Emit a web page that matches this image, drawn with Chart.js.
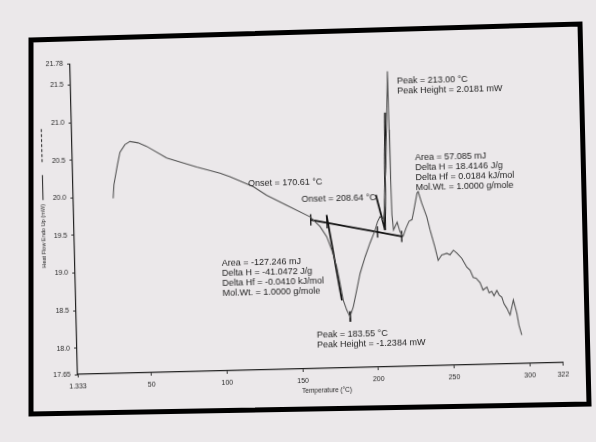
<!DOCTYPE html>
<html><head><meta charset="utf-8">
<script src="https://cdn.jsdelivr.net/npm/chart.js@4.4.0/dist/chart.umd.min.js"></script>
<style>
html,body{margin:0;padding:0;background:#ebe8ea;width:596px;height:442px;overflow:hidden;}
#wrap{position:absolute;left:0;top:0;width:596px;height:442px;transform:rotate(-1.4deg);transform-origin:300px 220px;}
canvas{display:block}
svg{position:absolute;left:0;top:0}
</style></head><body>
<div id="wrap"><canvas id="c" width="596" height="442"></canvas></div>
<svg width="596" height="442"><polygon points="31,40 580,24 589,404 31,414" fill="none" stroke="#000" stroke-width="5" stroke-linejoin="miter"/></svg>
<script>
// ---- data ----
const temperature = [27.6,28.3,30.9,32.8,36.2,39.6,44.9,50.5,63.6,83.2,98.5,105.0,120.3,129.0,142.1,157.3,163.7,168.0,171.1,174.1,176.0,177.9,180.0,181.6,182.0,184.4,186.9,189.4,193.0,196.4,200.0,201.7,203.5,205.6,206.8,208.6,210.7,210.9,211.1,211.4,212.2,214.7,216.5,218.4,220.5,222.6,224.6,226.0,228.3,229.1,231.2,234.4,236.3,239.2,241.2,243.6,247.0,249.1,251.4,253.6,256.8,260.0,262.1,264.1,265.9,268.5,270.3,272.9,274.3,276.0,277.5,279.4,280.9,282.6,284.0,285.8,287.8,290.2,292.3,293.5,295.2];
const heatFlow = [19.98,20.16,20.42,20.59,20.69,20.73,20.71,20.66,20.50,20.37,20.28,20.23,20.09,19.97,19.83,19.67,19.54,19.40,19.22,19.00,18.78,18.55,18.42,18.35,18.33,18.46,18.68,18.90,19.12,19.30,19.47,19.58,19.65,19.60,19.80,20.53,21.58,20.80,20.13,19.67,19.47,19.57,19.44,19.38,19.49,19.58,19.60,19.73,19.95,19.97,19.82,19.63,19.46,19.23,19.05,19.12,19.14,19.12,19.18,19.14,19.07,18.95,18.91,18.81,18.80,18.74,18.64,18.68,18.60,18.62,18.56,18.63,18.57,18.54,18.45,18.39,18.30,18.50,18.32,18.16,18.03];

const baselineT = [157.7,217.5];
const baselineY = [19.63,19.38];
const onset1T = [168.2,177.0];
const onset1Y = [19.69,18.55];
const onset2T = [201.1,206.6];
const onset2Y = [19.94,19.47];
const peakLineT = [208.5,206.6];
const peakLineY = [21.03,19.47];
const endoMarkT = [182.2,182.2];
const endoMarkY = [18.40,18.26];
const markT = [157.7,168.4,201.6,217.5];
const markY = [19.63,19.585,19.447,19.38];

const xTicks = [1.333,50,100,150,200,250,300,322];
const yTicks = [17.65,18.0,18.5,19.0,19.5,20.0,20.5,21.0,21.5,21.78];

const notes = [
  {t:116.9, y:20.127, lines:["Onset = 170.61 °C"]},
  {t:152.0, y:19.907, lines:["Onset = 208.64 °C"]},
  {t:216.8, y:21.452, lines:["Peak = 213.00 °C","Peak Height = 2.0181 mW"]},
  {t:227.6, y:20.416, lines:["Area = 57.085 mJ","Delta H = 18.4146 J/g","Delta Hf = 0.0184 kJ/mol","Mol.Wt. = 1.0000 g/mole"]},
  {t:98.2, y:19.074, lines:["Area = -127.246 mJ","Delta H = -41.0472 J/g","Delta Hf = -0.0410 kJ/mol","Mol.Wt. = 1.0000 g/mole"]},
  {t:159.9, y:18.097, lines:["Peak = 183.55 °C","Peak Height = -1.2384 mW"]}
];
const xTitle = "Temperature (°C)";
const yTitle = "Heat Flow Endo Up (mW)";

// ---- build datasets ----
const pts = (xs, ys) => xs.map((x,i)=>({x:x, y:ys[i]}));
const marks = [];
markT.forEach((t,i)=>{ marks.push({x:t,y:markY[i]-0.075}); marks.push({x:t,y:markY[i]+0.075}); marks.push({x:t,y:null}); });

const FONT = '"Liberation Sans", Arial, sans-serif';
const ann = {borderColor:'#111', borderWidth:1.8, pointRadius:0, fill:false, tension:0};

const textPlugin = {
  id:'texts',
  afterDatasetsDraw(chart){
    const ctx = chart.ctx, xs = chart.scales.x, ys = chart.scales.y;
    ctx.save();
    ctx.fillStyle = '#1e1e1e';
    ctx.font = '9px ' + FONT;
    ctx.textBaseline = 'middle';
    ctx.textAlign = 'left';
    notes.forEach(n=>{
      const px = xs.getPixelForValue(n.t), py = ys.getPixelForValue(n.y);
      n.lines.forEach((l,i)=>ctx.fillText(l, px, py + i*10));
    });
    // x title
    ctx.font = '6.5px ' + FONT;
    ctx.textAlign = 'center';
    ctx.fillText(xTitle, 323, 391);
    // y title with line legend
    ctx.translate(43.6, 229.8);
    ctx.rotate(-Math.PI/2);
    ctx.font = '5.6px ' + FONT;
    ctx.fillStyle = '#111';
    ctx.fillText(yTitle, 0, 0);
    ctx.strokeStyle = '#222';
    ctx.lineWidth = 1;
    ctx.beginPath(); ctx.moveTo(36,0); ctx.lineTo(61,0); ctx.stroke();
    ctx.setLineDash([3,2]);
    ctx.beginPath(); ctx.moveTo(74,0); ctx.lineTo(108,0); ctx.stroke();
    ctx.restore();
  }
};

new Chart(document.getElementById('c'), {
  type:'line',
  data:{datasets:[
    {data:pts(temperature,heatFlow), borderColor:'#555', borderWidth:1.1, pointRadius:0, tension:0, fill:false},
    Object.assign({data:pts(baselineT,baselineY)}, ann),
    Object.assign({data:pts(onset1T,onset1Y)}, ann),
    Object.assign({data:pts(onset2T,onset2Y)}, ann),
    Object.assign({data:pts(peakLineT,peakLineY)}, ann),
    Object.assign({data:pts(endoMarkT,endoMarkY)}, ann),
    Object.assign({data:marks, spanGaps:false}, ann, {borderWidth:1.3})
  ]},
  options:{
    responsive:false, animation:false, devicePixelRatio:1,
    layout:{padding:{left:0,right:36.5,top:58.4,bottom:0}},
    plugins:{legend:{display:false}, tooltip:{enabled:false}},
    scales:{
      x:{type:'linear', min:1.333, max:322,
        afterBuildTicks:s=>{s.ticks = xTicks.map(v=>({value:v}));},
        afterFit:s=>{s.height = 73;},
        ticks:{autoSkip:false, maxRotation:0, padding:5, color:'#2a2a2a', font:{size:7, family:FONT},
          callback:v=> v===1.333 ? '1.333' : String(v)},
        grid:{drawOnChartArea:false, tickLength:3, color:'#333'},
        border:{color:'#222', width:1.2}
      },
      y:{min:17.65, max:21.78,
        afterBuildTicks:s=>{s.ticks = yTicks.map(v=>({value:v}));},
        afterFit:s=>{s.width = 74;},
        ticks:{autoSkip:false, padding:4, color:'#2a2a2a', font:{size:7, family:FONT},
          callback:v=> (v===17.65||v===21.78) ? v.toFixed(2) : v.toFixed(1)},
        grid:{drawOnChartArea:false, tickLength:3, color:'#333'},
        border:{color:'#222', width:1.2}
      }
    }
  },
  plugins:[textPlugin]
});
</script>
</body></html>
